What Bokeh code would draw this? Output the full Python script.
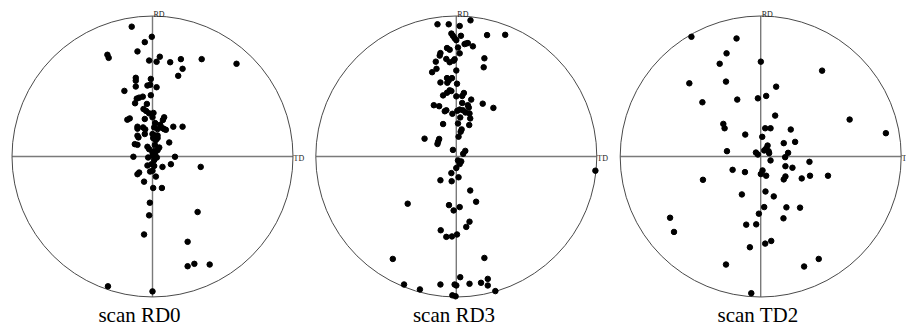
from bokeh.plotting import figure
from bokeh.models import Range1d
from bokeh.core.properties import value
from bokeh.embed import file_html
from bokeh.resources import INLINE

# ---------------- data (projected pole coordinates, radius = 100) ----------------
panel_names = ["scan RD0", "scan RD3", "scan TD2"]
axis_labels = ["RD", "TD"]

rd0_x = [-14.8, -0.5, -5.5, -10.7, -32.1, -31.2, 5.2, -2.4, 2.9, 12.6, 20.2, 35.0, 59.8, 21.4, 18.3,
         -11.9, -11.9, -1.2, -11.9, -3.6, -1.7, 2.9, -20.0, -6.9, -9.5, -11.2, -1.2, -12.4, -4.0, -6.4,
         -4.5, -2.4, 0.7, -17.9, -16.2, -5.5, 0.0, 8.3, 7.4, 1.9, 5.5, 14.8, 21.4, -10.7, -10.7,
         -6.7, -5.2, 1.2, 3.6, 7.1, 9.5, 8.3, -5.5, -10.7, -10.0, 0.0, 1.7, 3.6, 0.5, 3.6,
         2.4, -12.6, -10.7, 11.9, -3.6, -2.4, 1.7, 4.8, 0.0, 1.7, 3.6, 0.0, 1.9, 3.1, 1.2,
         -13.6, -3.1, 16.0, 34.3, -3.6, -0.7, 1.2, 7.1, 13.1, 0.0, -1.7, 2.4, -9.5, -10.7, -6.0,
         0.5, 6.7, -1.9, -2.4, 32.1, -6.0, 25.0, 25.0, 29.8, 40.7, -31.7, 0.0]
rd0_y = [92.4, 85.2, 81.4, 74.8, 72.4, 70.2, 71.0, 68.3, 67.4, 67.1, 69.3, 69.3, 66.0, 62.4, 57.4,
         56.0, 54.0, 55.2, 49.8, 50.5, 51.0, 49.3, 46.7, 42.6, 41.9, 41.2, 43.6, 37.9, 37.4, 33.8,
         32.4, 30.7, 31.0, 26.2, 27.1, 26.7, 27.9, 27.9, 26.0, 23.8, 22.6, 21.2, 21.2, 21.2, 19.8,
         20.7, 19.3, 20.7, 19.5, 20.2, 19.0, 19.5, 16.0, 14.8, 13.6, 16.0, 15.0, 15.0, 13.1, 13.1,
         11.7, 8.8, 8.3, 10.0, 6.9, 5.2, 8.1, 6.4, 2.9, 4.0, 4.5, 0.5, 1.7, -0.7, -2.6,
         -0.2, -0.7, -0.2, -7.4, -6.4, -5.5, -6.7, -7.4, -5.5, -10.2, -10.7, -14.3, -11.4, -12.6, -17.9,
         -22.4, -22.4, -32.9, -41.9, -39.5, -55.5, -60.7, -78.1, -76.4, -76.9, -92.4, -96.0]

rd3_x = [-13.4, -5.4, 10.1, 2.4, -3.5, -2.4, -1.2, 0.0, 3.3, 21.9, 34.8, 5.9, 7.1, 8.2, 11.8,
         1.2, -6.6, -4.7, 2.4, -11.3, -11.8, -7.1, -4.7, -1.9, -1.2, -14.6, 20.0, 19.5, -14.1, -17.2,
         0.0, -6.6, -5.4, -3.1, -11.3, -6.4, 0.5, -4.7, -3.5, -6.6, -9.4, 5.4, 4.2, 0.0, 10.6,
         4.2, 18.8, 26.4, -16.0, -12.2, 8.2, 8.9, -7.1, -8.2, 2.4, 4.7, 0.7, -2.8, 6.6, 9.4,
         2.8, 9.9, 1.2, -9.4, 9.2, 3.8, 3.1, 1.6, -22.6, -12.2, -12.9, -13.4, -2.4, 6.4, 4.9,
         1.2, 3.5, 2.4, 0.0, -3.5, 1.6, -11.3, -3.3, 99.0, 9.9, 14.1, -34.6, -5.2, -1.9, 2.4,
         9.4, 7.1, -11.1, -7.1, -3.1, 0.5, -45.2, 20.0, 2.8, 22.4, -37.2, -11.3, -1.2, 0.0, 9.4,
         17.6, 22.4, -25.9, 27.8, -2.8, -0.5]
rd3_y = [94.1, 94.1, 96.9, 92.9, 87.5, 85.9, 84.2, 82.8, 85.9, 86.4, 86.6, 80.0, 80.5, 80.7, 78.4,
         77.6, 77.2, 76.0, 73.4, 73.6, 71.8, 69.4, 67.1, 68.2, 69.2, 67.5, 69.9, 63.5, 62.4, 60.0,
         61.2, 55.8, 54.1, 55.8, 52.7, 52.5, 51.8, 47.1, 46.6, 45.4, 43.5, 45.2, 43.1, 42.8, 40.5,
         38.1, 37.6, 34.6, 36.5, 35.8, 36.5, 34.8, 32.9, 32.2, 33.4, 32.9, 32.5, 30.4, 31.3, 30.6,
         27.8, 27.1, 23.5, 23.1, 22.4, 19.3, 17.6, 14.1, 12.7, 12.5, 10.6, 8.9, 4.7, 4.0, 1.9,
         -2.8, -3.5, -5.4, -8.2, -11.8, -14.8, -16.9, -17.6, -10.1, -24.2, -32.2, -33.6, -34.6, -38.4, -36.0,
         -46.4, -50.1, -52.5, -57.2, -56.9, -55.5, -72.9, -72.2, -85.9, -87.1, -91.1, -91.1, -91.1, -91.8, -90.6,
         -89.9, -91.8, -94.6, -95.8, -98.8, -99.5]

td2_x = [-49.3, -17.2, -24.3, -29.2, 0.1, 43.7, -50.8, -24.7, 11.0, -41.5, -16.7, -2.0, 3.9, 10.3, 63.3,
         -26.6, -25.7, 3.2, 7.0, 21.4, 89.1, -11.0, 1.1, 24.5, 16.4, 4.9, 3.9, 2.5, 5.6, 6.0,
         -24.0, -3.4, -2.0, 19.5, 17.4, 7.0, 34.7, 17.6, 22.6, -20.0, -11.2, 1.3, 0.1, 3.9, 17.6,
         16.4, 29.2, 35.1, 47.9, -41.1, 3.4, -13.4, 9.3, 2.5, 18.3, 28.0, -1.3, 16.2, -64.5, -61.7,
         -10.3, -3.2, 7.5, 3.2, -7.7, 41.3, -24.7, 30.9, -6.7]
td2_y = [85.2, 84.0, 73.4, 66.0, 67.5, 61.1, 52.1, 53.3, 49.7, 38.6, 40.5, 41.4, 43.1, 29.1, 26.3,
         23.2, 20.1, 20.1, 20.1, 19.2, 16.6, 15.6, 14.0, 10.4, 9.5, 7.8, 5.7, 4.3, 3.8, 2.4,
         3.8, 2.8, 1.4, 2.6, -0.5, -2.8, -3.8, -6.9, -8.0, -9.5, -11.1, -9.9, -12.5, -13.7, -14.2,
         -16.3, -15.6, -13.7, -13.7, -16.6, -24.9, -27.0, -28.4, -36.0, -36.2, -36.4, -40.7, -44.0, -43.6, -53.7,
         -48.5, -48.3, -60.1, -62.0, -64.6, -72.9, -76.9, -78.3, -97.3]

series = [(rd0_x, rd0_y), (rd3_x, rd3_y), (td2_x, td2_y)]

# ---------------- layout (picture pixels, figure at picture origin) ----------------
W, H = 906, 327
R_PX = 140.5                 # circle radius in pixels
centers_px = [152.0, 455.8, 760.2]
cy_px = 156.0
caption_dx_px = [-13.0, -2.3, -2.7]
caption_bottom_px = 326.0

k = 100.0 / R_PX             # data units per pixel

x0 = (0 - centers_px[0]) * k
x1 = (W - centers_px[0]) * k
y1 = cy_px * k
y0 = -(H - cy_px) * k
offsets = [(c - centers_px[0]) * k for c in centers_px]

p = figure(width=W, height=H, output_backend="svg", toolbar_location=None,
           x_range=Range1d(x0, x1), y_range=Range1d(y0, y1),
           min_border=0, outline_line_color=None,
           background_fill_color="white", border_fill_color="white")
p.xaxis.visible = False
p.yaxis.visible = False
p.grid.visible = False

FONT = value("Liberation Serif")

for i, (xs, ys) in enumerate(series):
    off = offsets[i]
    # cross axes
    p.segment(x0=[off - 100, off], y0=[0, -100], x1=[off + 100, off], y1=[0, 100],
              line_color="#7a7a7a", line_width=1.4)
    # outer circle
    p.circle(x=[off], y=[0], radius=100, fill_color=None,
             line_color="#4a4a4a", line_width=1)
    # poles
    p.scatter(x=[off + v for v in xs], y=ys, size=5.5, marker="circle",
              fill_color="black", line_color="black")
    # labels
    p.text(x=[off + 1.0 * k], y=[100 + 1.5 * k], text=[axis_labels[0]],
           text_font=FONT, text_font_size="8px", text_color="#222",
           text_align="left", text_baseline="alphabetic")
    p.text(x=[off + 100 + 0.5 * k], y=[-1.5 * k], text=[axis_labels[1]],
           text_font=FONT, text_font_size="8px", text_color="#222",
           text_align="left", text_baseline="middle")
    p.text(x=[off + caption_dx_px[i] * k], y=[-(caption_bottom_px - cy_px) * k],
           text=[panel_names[i]], text_font=FONT, text_font_size="21px",
           text_color="black", text_align="center", text_baseline="bottom")

open("out.html", "w").write(file_html(p, INLINE))
